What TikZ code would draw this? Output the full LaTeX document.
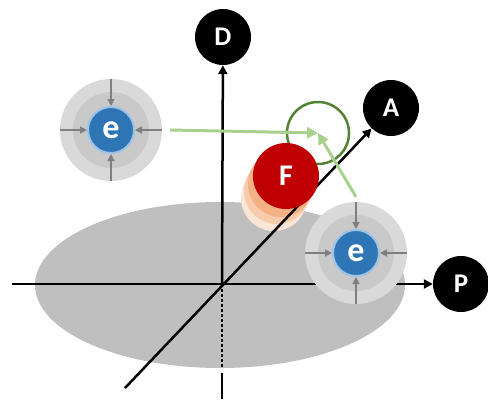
\documentclass[tikz,border=0pt]{standalone}
\usepackage{fontspec}
\setsansfont{Carlito}
\usetikzlibrary{arrows.meta}

\definecolor{planegray}{HTML}{BFBFBF}
\definecolor{ringout}{HTML}{D9D9D9}
\definecolor{ringmid}{HTML}{C9C9C9}
\definecolor{eblue}{HTML}{2E75B6}
\definecolor{eborder}{HTML}{9DC3E6}
\definecolor{pullgray}{HTML}{7F7F7F}
\definecolor{darkgreen}{HTML}{548235}
\definecolor{lightgreen}{HTML}{A9D18E}
\definecolor{fred}{HTML}{C00000}
\definecolor{ghosta}{HTML}{F4B183}
\definecolor{ghostb}{HTML}{F8CBAD}
\definecolor{ghostc}{HTML}{FBE5D6}

\tikzset{
	letter/.style={circle, fill=black, minimum size=56pt, inner sep=0pt, text=white, font=\sffamily\bfseries\fontsize{27}{27}\selectfont},
	axis/.style={line width=2.5pt, -{Triangle[length=9pt,width=9pt]}},
	outerring/.style={circle, fill=ringout, minimum size=102pt, inner sep=0pt},
	electron/.style={circle, fill=eblue, draw=eborder, line width=2pt, minimum size=46pt, inner sep=0pt, text=white, font=\sffamily\bfseries\fontsize{34}{34}\selectfont},
	pull/.style={pullgray, line width=1.2pt, -{Triangle[length=7pt,width=7pt]}},
	move/.style={lightgreen, line width=3pt, -{Triangle[length=11pt,width=11pt]}},
}

\begin{document}
\begin{tikzpicture}[x=1pt,y=-1pt]
	\useasboundingbox (0,0) rectangle (488,402);
	
	% plane
	\fill[planegray] (220,285) ellipse [x radius=185, y radius=83];
	
	% earlier positions of F
	\foreach \dx/\dy/\col in {-12/22/ghostc,-9/15/ghostb,-5/8/ghosta}{
		\fill[\col] ({286+(\dx)},{176+(\dy)}) circle (33);
	}
	
	% axes
	\coordinate (O) at (222,284);
	\coordinate (hstart) at (12,284);
	\coordinate (dstart) at (125,388);
	\coordinate (vdot) at (222,368);
	\coordinate (vlow) at (222,373);
	\coordinate (vend) at (222,399);
	\node[letter] (D) at (223,37) {D};
	\node[letter] (A) at (391,108) {A};
	\node[letter] (P) at (461,284) {P};
	\draw[axis] (hstart) -- (P);
	\draw[axis] (O) -- (D);
	\draw[axis] (dstart) -- (A);
	\draw[line width=2.5pt, dash pattern=on 2.5pt off 2.5pt] (O) -- (vdot);
	\draw[line width=2.5pt] (vlow) -- (vend);
	
	% electrons
	\foreach \n/\x/\y in {eL/111/130, eR/356/253}{
		\node[outerring] (\n o) at (\x,\y) {};
		\fill[ringmid] (\x,\y) circle (38);
		\node[electron] (\n) at (\x,\y) {e};
		\foreach \dir in {north,south,east,west}{
			\draw[pull] (\n o.\dir) -- (\n.\dir);
		}
	}
	
	% target and moves
	\node[circle, draw=darkgreen, line width=2.5pt, minimum size=62pt, inner sep=0pt] (target) at (318,133) {};
	\draw[move] ([xshift=8pt]eLo.east) -- (target.center);
	\draw[move] ([yshift=5pt]eRo.north) -- (target.center);
	
	\node[circle, fill=fred, minimum size=66pt, inner sep=0pt, text=white, font=\sffamily\bfseries\fontsize{30}{30}\selectfont] (F) at (286,176) {F};
\end{tikzpicture}
\end{document}
